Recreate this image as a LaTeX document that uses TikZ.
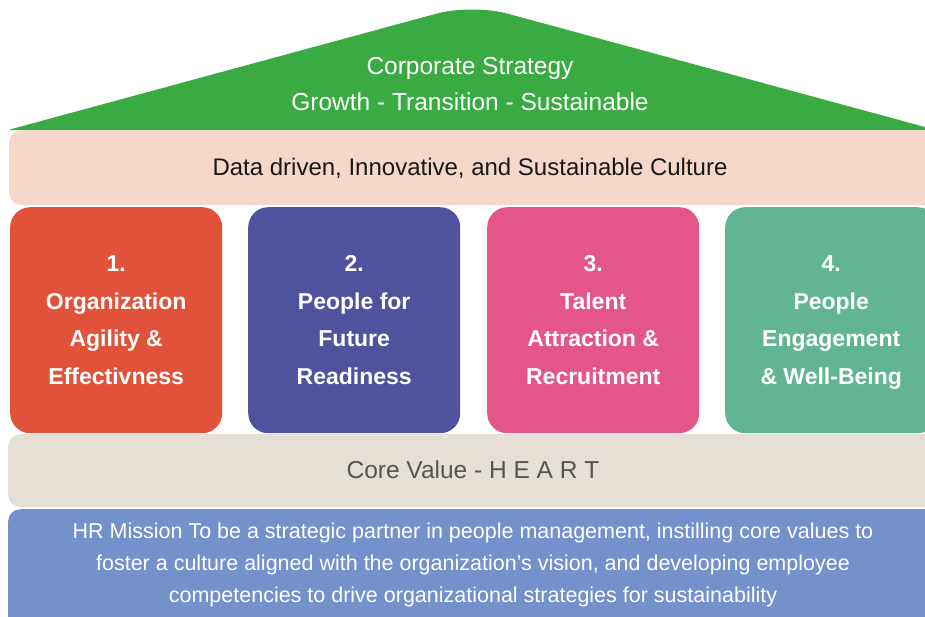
\documentclass[tikz,border=0pt]{standalone}
\usepackage{fontspec}
\setmainfont{Liberation Sans}
\usetikzlibrary{positioning}

\definecolor{roofgreen}{HTML}{3AAA42}
\definecolor{culturepeach}{HTML}{F7D7CA}
\definecolor{pillarred}{HTML}{E0533A}
\definecolor{pillarblue}{HTML}{50529E}
\definecolor{pillarpink}{HTML}{E45689}
\definecolor{pillargreen}{HTML}{62B594}
\definecolor{corebeige}{HTML}{E5DFD5}
\definecolor{missionblue}{HTML}{7391CA}
\definecolor{coregray}{HTML}{555555}

\begin{document}
\begin{tikzpicture}[x=1pt, y=-1pt,
    band/.style={rounded corners=12pt, inner sep=0pt, minimum width=937pt},
    pillar/.style={rounded corners=20pt, minimum width=212pt, minimum height=226pt,
        inner sep=0pt, text=white, align=center, text depth=0pt,
        font=\fontsize{23}{37.5}\selectfont\bfseries}]
    \useasboundingbox (0,0) rectangle (925,616);
    \clip (0,0) rectangle (925,616);

    % Roof
    \fill[roofgreen] (8,130) [rounded corners=36pt] -- (472,4) [sharp corners] -- (936,130)
        [rounded corners=3pt] -- cycle;
    \node[text=white, align=center, font=\fontsize{24.5}{36}\selectfont] (strategy) at (470,84)
        {Corporate Strategy\\Growth - Transition - Sustainable};

    % Culture band
    \node[band, fill=culturepeach, minimum height=75pt, anchor=north west] (culture) at (9,130) {};
    \node[font=\fontsize{24}{28}\selectfont, text=black!90] (culturetext) at (470,168)
        {Data driven, Innovative, and Sustainable Culture};

    % Pillars
    \node[pillar, fill=pillarred, anchor=north west] (agility) at (10,207)
        {1.\\Organization\\Agility \&\\Effectivness};
    \node[pillar, fill=pillarblue, anchor=north west] (future) at (248,207)
        {2.\\People for\\Future\\Readiness};
    \node[pillar, fill=pillarpink, anchor=north west] (talent) at (487,207)
        {3.\\Talent\\Attraction \&\\Recruitment};
    \node[pillar, fill=pillargreen, anchor=north west] (engage) at (725,207)
        {4.\\People\\Engagement\\\& Well-Being};

    % Core value band
    \node[band, fill=corebeige, minimum height=73pt, anchor=north west] (core) at (8,434) {};
    \node[font=\fontsize{24.5}{28}\selectfont, text=coregray] (coretext) at (473,470)
        {Core Value - H E A R T};

    % Mission band
    \node[band, fill=missionblue, minimum height=125pt, anchor=north west] (mission) at (8,509) {};
    \node[text=white, align=center, font=\fontsize{21.5}{32}\selectfont] (missiontext) at (473,565)
        {HR Mission To be a strategic partner in people management, instilling core values to\\
         foster a culture aligned with the organization's vision, and developing employee\\
         competencies to drive organizational strategies for sustainability};
\end{tikzpicture}
\end{document}
